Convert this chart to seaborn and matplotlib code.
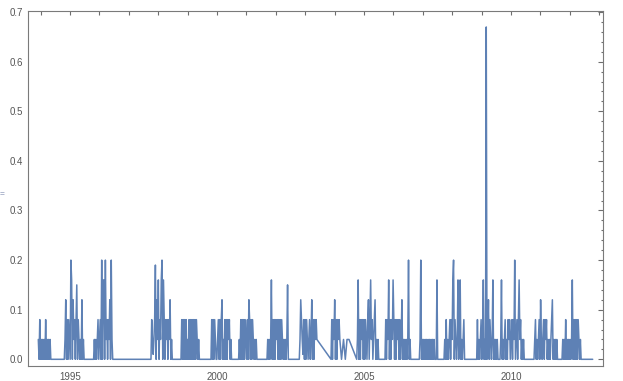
import pandas as pd
import matplotlib
matplotlib.use("Agg")
import matplotlib.pyplot as plt
import seaborn as sns
from matplotlib.ticker import MultipleLocator, FormatStrFormatter

# spacing of readings inside an active stretch (years)
step = 0.025

# first reading of each active stretch (decimal year)
starts = [1993.922, 1994.805, 1995.803, 1997.754, 1998.775, 1999.795,
          2000.734, 2001.700, 2002.798, 2003.878, 2004.776, 2005.714,
          2006.881, 2007.721, 2008.833, 2009.626, 2010.782, 2011.735]

# readings in hundredths, one list per stretch
stretches = [
    [4, 0, 8, 0, 4, 0, 4, 0, 4, 0, 8, 0, 4, 0, 4, 0, 4, 0],
    [0, 4, 12, 0, 8, 0, 8, 4, 0, 20, 16, 0, 12, 4, 8, 0, 8, 15, 0, 8, 4, 0, 4, 0, 12, 0, 4, 0],
    [0, 4, 0, 4, 0, 4, 8, 0, 4, 8, 0, 20, 0, 16, 16, 0, 20, 4, 8, 0, 8, 4, 12, 0, 20, 4, 0],
    [0, 8, 4, 1, 4, 8, 19, 0, 12, 4, 16, 0, 8, 4, 16, 20, 0, 16, 8, 0, 8, 4, 8, 0, 8, 4, 12, 0, 4, 0],
    [0, 8, 0, 8, 0, 8, 0, 8, 0, 4, 0, 8, 0, 8, 0, 8, 0, 8, 0, 8, 0, 8, 4, 0, 4, 0],
    [0, 8, 0, 8, 0, 8, 4, 0, 0, 4, 8, 0, 8, 0, 8, 12, 0, 4, 0, 8, 0, 8, 0, 8, 4, 8, 0, 4, 0],
    [0, 4, 0, 8, 0, 8, 0, 8, 0, 8, 4, 0, 8, 0, 12, 8, 0, 8, 0, 8, 4, 0, 4, 0, 4, 0],
    [0, 4, 0, 4, 0, 4, 16, 0, 8, 0, 8, 0, 8, 4, 8, 0, 8, 0, 8, 0, 8, 4, 0, 4, 0, 4, 0, 4, 15, 0],
    [0, 4, 12, 8, 4, 1, 8, 0, 8, 0, 8, 4, 0, 4, 8, 0, 4, 12, 0, 8, 0, 8, 4, 8, 4],
    [0, 8, 0, 8, 4, 12, 0, 8, 0, 8, 4, 8, 4],
    [4, 16, 0, 8, 0, 8, 4, 8, 0, 8, 0, 8, 4, 0, 8, 12, 0, 8, 16, 4, 8, 0, 4, 8, 12, 0, 4, 0, 4, 0],
    [0, 8, 0, 8, 4, 16, 0, 8, 0, 8, 4, 16, 8, 0, 8, 0, 8, 4, 8, 0, 8, 0, 4, 12, 0, 4, 0, 4, 0, 4, 0, 4, 20, 0, 4, 0],
    [0, 4, 20, 0, 4, 0, 4, 0, 4, 0, 4, 0, 4, 0, 4, 0, 4, 0, 4, 0, 4, 0, 0, 0, 16, 0],
    [0, 4, 0, 8, 0, 4, 0, 4, 8, 0, 8, 4, 16, 20, 0, 8, 4, 0, 4, 16, 0, 4, 16, 0, 4, 0, 4, 8, 0],
    [0, 8, 0, 4, 0, 4, 8, 0, 4, 16, 0, 4, 0, 67, 0, 4, 12, 0, 8, 4, 0, 4, 16, 0, 4, 0, 4, 0, 4, 0],
    [0, 4, 16, 0, 4, 0, 4, 8, 0, 4, 0, 8, 4, 8, 0, 4, 8, 0, 8, 4, 20, 0, 4, 8, 0, 8, 16, 4, 8, 0, 4, 0, 4, 0],
    [0, 4, 8, 0, 4, 0, 4, 8, 0, 12, 4, 0, 4, 8, 0, 8, 4, 8, 0, 4, 0, 4, 0, 4, 8, 12, 0, 4, 0, 4, 0, 4, 0],
    [0, 4, 0, 4, 0, 8, 0, 4, 0, 4, 0, 4, 0, 4, 16, 0, 8, 0, 8, 0, 8, 0, 8, 4, 0, 4, 0],
]

# sparse readings in 2004
gap_years = [2004.235, 2004.303, 2004.364, 2004.422, 2004.490, 2004.752]
gap_values = [0, 4, 0, 4, 4, 0]

end_year = 2012.779

rows = []
for s, vals in zip(starts, stretches):
    for i, v in enumerate(vals):
        rows.append((s + i * step, v / 100))
for yr, v in zip(gap_years, gap_values):
    rows.append((yr, v / 100))
rows.append((end_year, 0.0))
df = pd.DataFrame(rows, columns=["ano", "valor"]).sort_values("ano")

sns.set_theme(style="white")
plt.rcParams["font.family"] = ["Liberation Sans", "DejaVu Sans"]

fig = plt.figure(figsize=(6.23, 3.81), dpi=100)
ax = fig.add_axes([27.5 / 623, 1 - 366 / 381, 575.5 / 623, 355 / 381])

sns.lineplot(data=df, x="ano", y="valor", ax=ax, color="#5E81B5",
             linewidth=1.1, estimator=None, sort=False)

ax.set_xlim(1993.554, 2013.129)
ax.set_ylim(-0.0135, 0.7022)
ax.set_xlabel("")
ax.set_ylabel("")

anos = list(range(1994, 2014))
ax.set_xticks(anos)
ax.set_xticklabels([str(a) if a % 5 == 0 else "" for a in anos])
ax.yaxis.set_major_locator(MultipleLocator(0.1))
ax.yaxis.set_minor_locator(MultipleLocator(0.02))
ax.yaxis.set_major_formatter(FormatStrFormatter("%.1f"))

ax.tick_params(axis="both", which="both", direction="in", top=True, right=True,
               color="#6e6e6e", labelcolor="#555555", labelsize=7, width=0.8)
ax.tick_params(axis="x", which="major", length=3, pad=4)
ax.tick_params(axis="y", which="major", length=3.4, pad=3)
ax.tick_params(axis="y", which="minor", length=1.7)

for sp in ax.spines.values():
    sp.set_color("#7a7a7a")
    sp.set_linewidth(0.8)

fig.text(0.0, 1 - 195 / 381, "=", fontsize=6, color="#6f7fa8", va="center", ha="left")

fig.savefig("out.png", dpi=100)
